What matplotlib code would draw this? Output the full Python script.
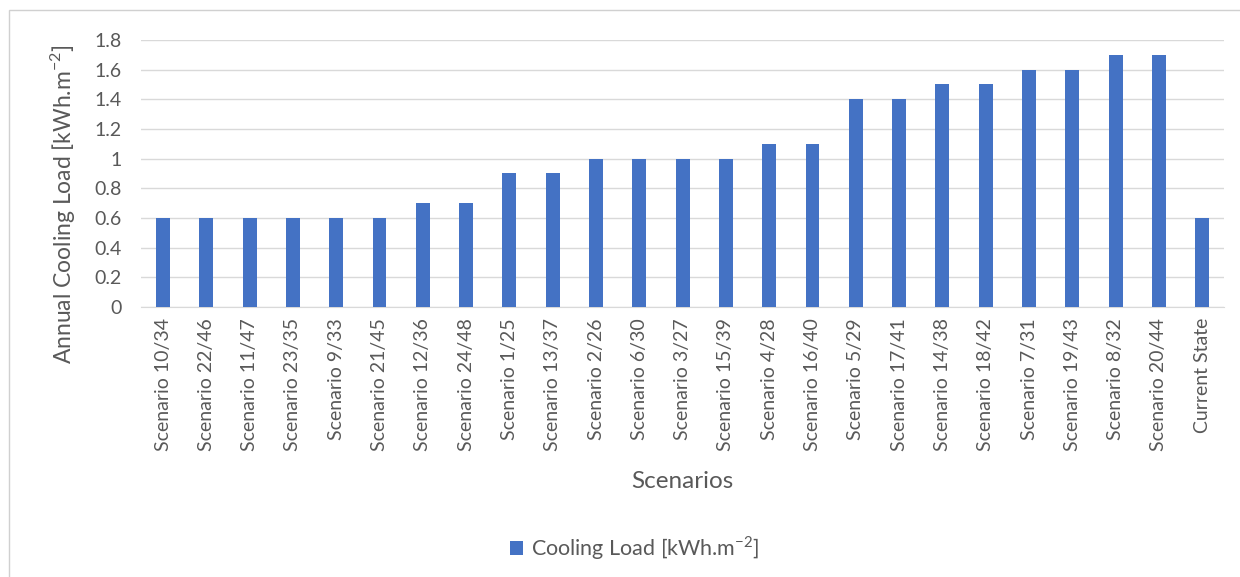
import matplotlib.pyplot as plt
from matplotlib.patches import Rectangle

OUTPUT_PATH = "out.png"

SCENARIOS = [
    "Scenario 10/34", "Scenario 22/46", "Scenario 11/47", "Scenario 23/35",
    "Scenario 9/33", "Scenario 21/45", "Scenario 12/36", "Scenario 24/48",
    "Scenario 1/25", "Scenario 13/37", "Scenario 2/26", "Scenario 6/30",
    "Scenario 3/27", "Scenario 15/39", "Scenario 4/28", "Scenario 16/40",
    "Scenario 5/29", "Scenario 17/41", "Scenario 14/38", "Scenario 18/42",
    "Scenario 7/31", "Scenario 19/43", "Scenario 8/32", "Scenario 20/44",
    "Current State",
]
COOLING_LOAD = [
    0.6, 0.6, 0.6, 0.6, 0.6, 0.6, 0.7, 0.7, 0.9, 0.9, 1.0, 1.0,
    1.0, 1.0, 1.1, 1.1, 1.4, 1.4, 1.5, 1.5, 1.6, 1.6, 1.7, 1.7, 0.6,
]
Y_TICKS = [0, 0.2, 0.4, 0.6, 0.8, 1.0, 1.2, 1.4, 1.6, 1.8]

BAR_COLOR = "#4472C4"
TEXT_COLOR = "#595959"
GRID_COLOR = "#D9D9D9"

plt.rcParams["font.family"] = ["Lato", "DejaVu Sans"]
plt.rcParams["mathtext.fontset"] = "custom"
plt.rcParams["mathtext.rm"] = "Lato"

fig = plt.figure(figsize=(12.4, 5.77), dpi=100)
ax = fig.add_axes([0.114, 0.468, 0.873, 0.4627])

# chart frame
fig.patches.append(Rectangle((9 / 1240, -0.01), 1.02, 1 - 10 / 577 + 0.01,
                             transform=fig.transFigure, fill=False,
                             edgecolor="#D0D0D0", linewidth=1.0))

x = range(len(SCENARIOS))
ax.bar(x, COOLING_LOAD, width=0.32, color=BAR_COLOR, zorder=3,
       label="Cooling Load [kWh.m$^{-2}$]")

ax.set_xlim(-0.5, len(SCENARIOS) - 0.5)
ax.set_ylim(0, 1.8)
ax.set_yticks(Y_TICKS)
ax.set_yticklabels([f"{t:g}" for t in Y_TICKS])
ax.set_xticks(list(x))
ax.set_xticklabels(SCENARIOS, rotation=90)
ax.tick_params(axis="both", length=0, colors=TEXT_COLOR, labelsize=14)
ax.tick_params(axis="y", pad=14)
ax.tick_params(axis="x", pad=8)
ax.grid(axis="y", color=GRID_COLOR, linewidth=1.0, zorder=0)
for side in ("top", "right", "left"):
    ax.spines[side].set_visible(False)
ax.spines["bottom"].set_color(GRID_COLOR)

ax.set_xlabel("Scenarios", fontsize=17.5, color=TEXT_COLOR, labelpad=14)
ax.set_ylabel("Annual Cooling Load [kWh.m$^{-2}$]", fontsize=16.5,
              color=TEXT_COLOR)
# y label sits a bit below the middle of the value axis
ax.yaxis.set_label_coords(-0.059, 0.385)

fig.legend(loc="center", bbox_to_anchor=(0.512, 1 - 548 / 577), frameon=False,
           fontsize=15.5, labelcolor=TEXT_COLOR, handlelength=0.6,
           handleheight=0.6, handletextpad=0.4)

fig.savefig(OUTPUT_PATH, dpi=100)
plt.close(fig)
